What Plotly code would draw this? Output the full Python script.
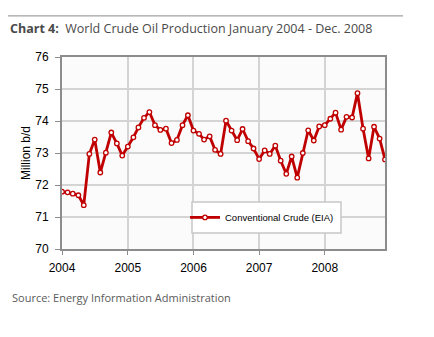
import plotly.graph_objects as go

months = [f"{y}-{m:02d}-01" for y in range(2004, 2009) for m in range(1, 13)]
production = [
    71.79, 71.77, 71.73, 71.68, 71.37, 72.97, 73.42, 72.39, 73.01, 73.64, 73.30, 72.92,
    73.20, 73.49, 73.80, 74.10, 74.28, 73.87, 73.72, 73.76, 73.31, 73.41, 73.87, 74.18,
    73.70, 73.60, 73.42, 73.52, 73.10, 72.97, 74.01, 73.70, 73.40, 73.75, 73.37, 73.14,
    72.81, 73.08, 72.97, 73.23, 72.76, 72.35, 72.89, 72.23, 73.00, 73.71, 73.39, 73.83,
    73.87, 74.07, 74.26, 73.73, 74.13, 74.11, 74.87, 73.76, 72.83, 73.82, 73.45, 72.80,
]
year_ticks = ["2004-01-01", "2005-01-01", "2006-01-01", "2007-01-01", "2008-01-01"]
year_labels = ["2004", "2005", "2006", "2007", "2008"]
series_name = "Conventional Crude (EIA)"

PW, PH = 323, 191.5

fig = go.Figure()
fig.add_trace(go.Scatter(
    x=months, y=production, mode="lines+markers", name=series_name,
    line=dict(color="#c00000", width=2.8),
    marker=dict(symbol="circle", size=4.5, color="white",
                line=dict(color="#c00000", width=1.3)),
))

fig.update_layout(
    width=434, height=337,
    margin=dict(l=62, r=49, t=57, b=88),
    paper_bgcolor="white", plot_bgcolor="#fbfbfb",
    font=dict(family="Liberation Sans, Arial", size=12, color="black"),
    showlegend=True,
    legend=dict(x=(262 - 62) / PW, y=(249 - 217.5) / PH, xanchor="center", yanchor="middle",
                bgcolor="rgba(0,0,0,0)", borderwidth=0,
                font=dict(size=9.5, family="Liberation Sans, Arial"),
                itemwidth=30),
)
fig.update_xaxes(
    type="date", range=["2004-01-01", "2008-12-01"],
    tickvals=year_ticks, ticktext=year_labels,
    showgrid=True, gridcolor="#d4d4d4", gridwidth=1.5,
    showline=True, linecolor="#8c8c8c", linewidth=2, mirror=True,
    ticks="outside", ticklen=4, tickcolor="#8c8c8c",
    tickfont=dict(size=12), zeroline=False, ticklabelstandoff=3,
)
fig.update_yaxes(
    range=[70, 76], dtick=1,
    showgrid=True, gridcolor="#d4d4d4", gridwidth=1.5,
    showline=True, linecolor="#8c8c8c", linewidth=2, mirror=True,
    ticks="outside", ticklen=5, tickcolor="#8c8c8c",
    tickfont=dict(size=12), zeroline=False, ticklabelstandoff=4,
    title=dict(text="Million b/d", font=dict(size=12), standoff=2),
)

# legend box
fig.add_shape(type="rect", xref="paper", yref="paper",
              x0=(192 - 62) / PW, x1=(341 - 62) / PW,
              y0=(249 - 233) / PH, y1=(249 - 202) / PH,
              fillcolor="white", line=dict(color="#c8c8c8", width=1.5), layer="above")

fig.add_shape(type="line", xref="paper", yref="paper",
              x0=-54 / PW, x1=(403 - 62) / PW, y0=1 + (57 - 16) / PH, y1=1 + (57 - 16) / PH,
              line=dict(color="#8a8a8a", width=1))
fig.add_annotation(
    text="<b>Chart 4:</b>  World Crude Oil Production January 2004 - Dec. 2008",
    xref="paper", yref="paper", x=-54 / PW, y=1 + (57 - 29) / PH,
    xanchor="left", yanchor="middle", showarrow=False,
    font=dict(family="Open Sans", size=12.5, color="#4a4a4a"),
)
fig.add_annotation(
    text="Source: Energy Information Administration",
    xref="paper", yref="paper", x=-52 / PW, y=-(297 - 249) / PH,
    xanchor="left", yanchor="middle", showarrow=False,
    font=dict(family="Open Sans", size=11, color="#5a5a5a"),
)

fig.write_html("out.html")
